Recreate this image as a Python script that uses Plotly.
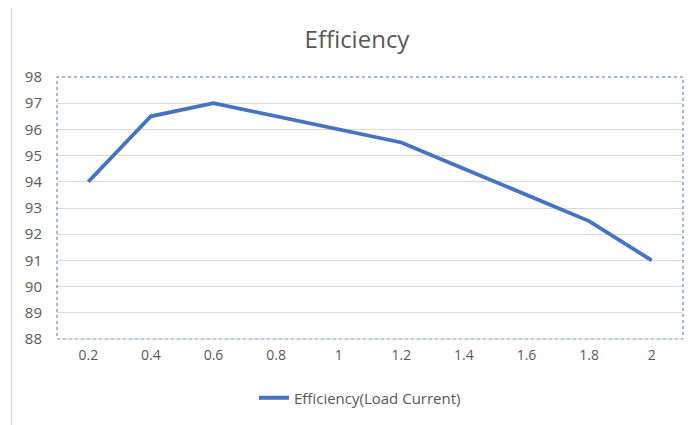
import plotly.graph_objects as go

categories = ["0.2", "0.4", "0.6", "0.8", "1", "1.2", "1.4", "1.6", "1.8", "2"]
efficiency = [94, 96.5, 97, 96.5, 96, 95.5, 94.5, 93.5, 92.5, 91]
y_ticks = list(range(88, 99))
series_name = "Efficiency(Load Current)"

W, H = 693, 425
ml, mr, mt, mb = 57, 10, 77, 86

fig = go.Figure()
fig.add_trace(go.Scatter(
    x=categories, y=efficiency, mode="lines", name=series_name,
    line=dict(color="#4472C4", width=3.8),
))

font_family = "Open Sans, Liberation Sans, sans-serif"
fig.update_layout(
    width=W, height=H,
    margin=dict(l=ml, r=mr, t=mt, b=mb),
    paper_bgcolor="white", plot_bgcolor="white",
    font=dict(family=font_family, color="#595959", size=14),
    title=dict(text="Efficiency", x=357 / W, xanchor="center", xref="container",
               y=1 - 40 / H, yanchor="middle", yref="container",
               font=dict(size=24, color="#595959", family=font_family)),
    showlegend=True,
    legend=dict(orientation="h", x=360 / W, xref="container", xanchor="center",
                y=1 - 398 / H, yref="container", yanchor="middle",
                font=dict(size=15, color="#595959")),
    xaxis=dict(type="category", range=[-0.5, len(categories) - 0.5], showgrid=False,
               showline=False, ticks="", tickfont=dict(size=14), ticklabelstandoff=6,
               zeroline=False),
    yaxis=dict(range=[88, 98], tickvals=y_ticks, showgrid=True, gridcolor="#d9d9d9",
               gridwidth=1, ticks="", showline=False, zeroline=False,
               tickfont=dict(size=15), ticklabelstandoff=14),
    shapes=[
        dict(type="rect", xref="paper", yref="paper", x0=0, x1=1, y0=0, y1=1,
             line=dict(color="#4472C4", width=1, dash="dot"), layer="above"),
        dict(type="line", xref="paper", yref="paper", x0=0, x1=1, y0=0, y1=0,
             line=dict(color="#d9d9d9", width=1), layer="above"),
        dict(type="line", xref="paper", yref="paper",
             x0=(11.5 - ml) / (W - ml - mr), x1=(11.5 - ml) / (W - ml - mr),
             y0=-0.4, y1=1 + (mt - 8) / (H - mt - mb),
             line=dict(color="#d9d9d9", width=1.5), layer="above"),
    ],
)

fig.write_html("out.html", config={"displayModeBar": False},
               post_script="document.body.style.margin='0';document.body.style.overflow='hidden';")
